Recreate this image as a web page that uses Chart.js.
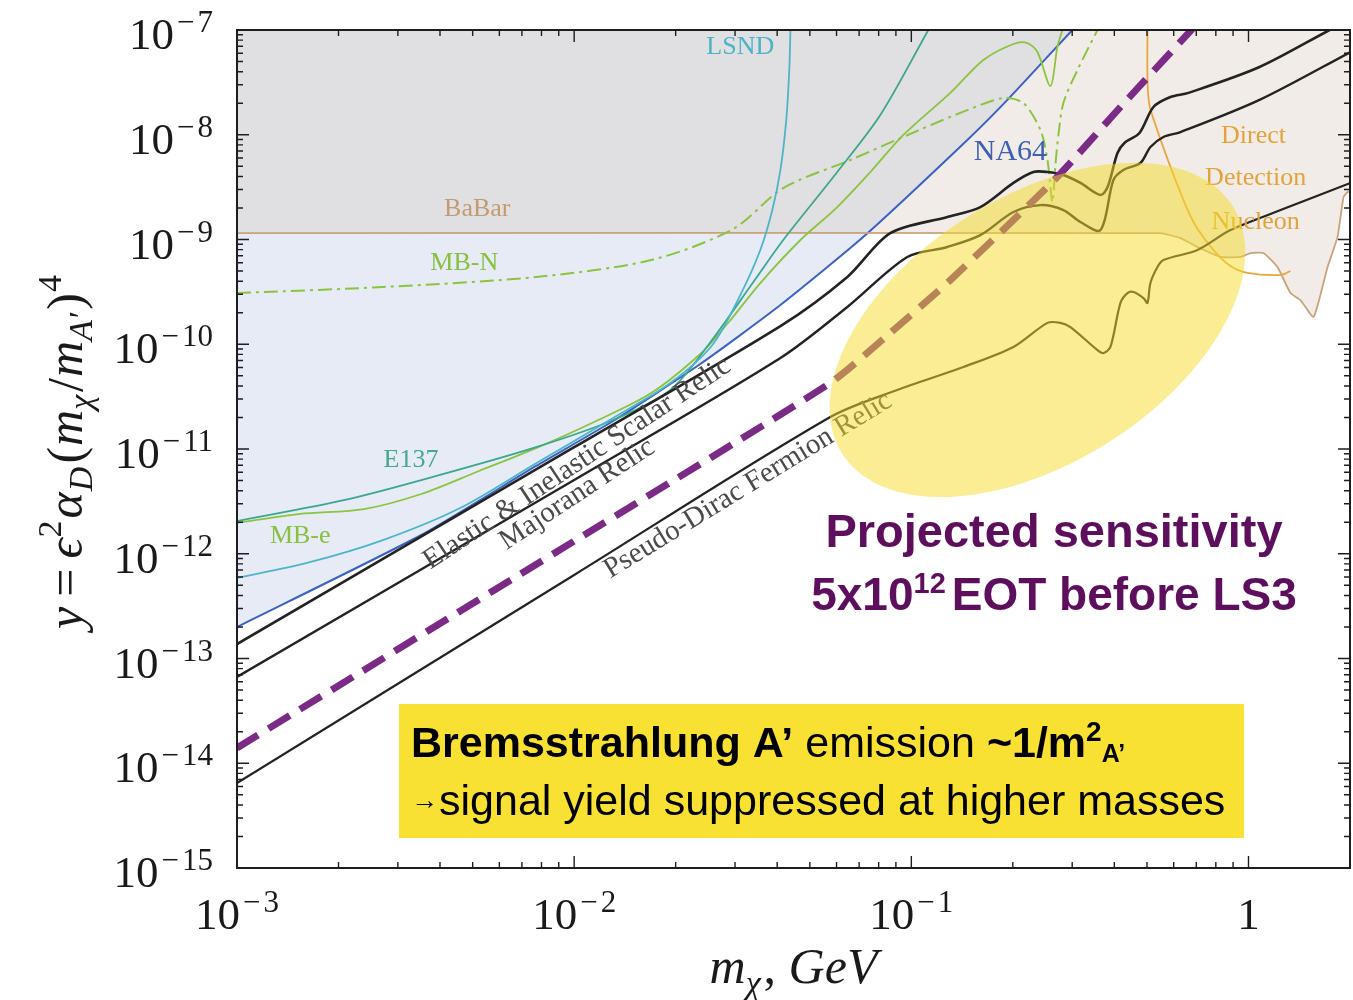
<!DOCTYPE html>
<html>
<head>
<meta charset="utf-8">
<script src="https://cdn.jsdelivr.net/npm/chart.js@4.4.0/dist/chart.umd.min.js"></script>
<style>
  html, body { margin: 0; padding: 0; background: #ffffff; }
  #wrap { width: 1353px; height: 1000px; position: relative; }
</style>
</head>
<body>
<div id="wrap"><canvas id="c" width="1353" height="1000"></canvas></div>
<script>
// ---------- axes ----------
const xRange = [1e-3, 2];
const yRange = [1e-15, 1e-7];
const xTickValues = [1e-3, 1e-2, 1e-1, 1];
const xTickExponents = ['3', '2', '1', null];
const yTickValues = [1e-7, 1e-8, 1e-9, 1e-10, 1e-11, 1e-12, 1e-13, 1e-14, 1e-15];
const yTickExponents = ['7', '8', '9', '10', '11', '12', '13', '14', '15'];

// ---------- exclusion limits (m_chi in GeV, y) ----------
const babarMass = [0.001, 0.548, 0.6284, 0.7058, 0.826, 0.9469, 1.014, 1.108, 1.219, 1.332, 1.426, 1.56, 1.716, 1.837, 1.914, 1.967, 2.0];
const babarY    = [1.15e-9, 1.15e-9, 1.03e-9, 8.48e-10, 6.81e-10, 6.81e-10, 7.43e-10, 7.43e-10, 5.46e-10, 3.08e-10, 2.64e-10, 1.82e-10, 5.46e-10, 1.06e-9, 2.55e-9, 2.84e-9, 2.84e-9];

const na64Mass = [0.001, 0.00352, 0.00771, 0.01305, 0.02366, 0.0409, 0.0721, 0.1466, 0.1927, 0.3003];
const na64Y    = [2.0e-13, 1.51e-12, 6.89e-12, 1.85e-11, 6.48e-11, 2.37e-10, 1.06e-9, 8.91e-9, 2.15e-8, 1.0e-7];

const ddMass = [0.5016, 0.5016, 0.5084, 0.530, 0.5556, 0.6157, 0.6867, 0.7872, 0.8843, 0.993, 1.245, 1.332];
const ddY    = [1.0e-7, 3.33e-8, 1.92e-8, 1.24e-8, 7.98e-9, 3.31e-9, 1.47e-9, 7.94e-10, 5.58e-10, 4.79e-10, 4.58e-10, 5.0e-10];

const lsndMass = [0.001, 0.001613, 0.00271, 0.00459, 0.00771, 0.01305, 0.01928, 0.0257, 0.0311, 0.03565, 0.0387, 0.0409, 0.04256, 0.04345, 0.0438];
const lsndY    = [5.87e-13, 8.17e-13, 1.35e-12, 2.73e-12, 7.3e-12, 1.98e-11, 4.27e-11, 9.84e-11, 2.95e-10, 7.94e-10, 1.91e-9, 4.61e-9, 1.38e-8, 4.15e-8, 1.0e-7];

const e137Mass = [0.001, 0.00209, 0.0040, 0.00771, 0.01305, 0.01928, 0.0250, 0.0340, 0.0417, 0.0603, 0.0809, 0.1123];
const e137Y    = [2.05e-12, 3.26e-12, 5.65e-12, 1.04e-11, 1.89e-11, 3.66e-11, 9.84e-11, 3.93e-10, 9.89e-10, 4.41e-9, 1.54e-8, 1.0e-7];

const mbeMass = [0.001, 0.00154, 0.00238, 0.00352, 0.00522, 0.00771, 0.01146, 0.01692, 0.02366, 0.02844, 0.03565, 0.0469, 0.0603, 0.0756, 0.0947, 0.1305, 0.1636, 0.2008, 0.2208, 0.2366, 0.2586, 0.2711, 0.2806];
const mbeY    = [1.97e-12, 2.40e-12, 2.67e-12, 3.72e-12, 6.17e-12, 1.02e-11, 1.81e-11, 3.42e-11, 8.07e-11, 1.56e-10, 3.84e-10, 9.89e-10, 2.04e-9, 4.41e-9, 9.95e-9, 2.51e-8, 5.17e-8, 7.35e-8, 7.51e-8, 6.17e-8, 2.92e-8, 6.89e-8, 1.0e-7];

const mbnMass = [0.001, 0.00271, 0.00771, 0.01692, 0.02963, 0.0417, 0.0659, 0.1042, 0.1466, 0.1875, 0.2148, 0.2415, 0.2534, 0.2621, 0.2675, 0.273, 0.2825, 0.311, 0.3565];
const mbnY    = [3.08e-10, 3.52e-10, 4.39e-10, 6.37e-10, 1.26e-9, 3.10e-9, 5.74e-9, 1.09e-8, 1.72e-8, 2.24e-8, 2.01e-8, 1.11e-8, 5.74e-9, 2.28e-9, 5.14e-9, 9.94e-9, 2.01e-8, 4.15e-8, 1.0e-7];

// ---------- thermal relic targets ----------
const scalarMass = [0.001, 0.01, 0.0409, 0.0646, 0.0866, 0.1279, 0.1602, 0.2008, 0.2301, 0.2534, 0.2825, 0.3173, 0.364, 0.382, 0.4087, 0.4285, 0.475, 0.5225, 0.5868, 0.6637, 1.078, 1.74, 2.0];
const scalarY    = [1.375e-13, 1.04e-11, 1.49e-10, 4.39e-10, 1.15e-9, 1.64e-9, 2.04e-9, 3.47e-9, 4.41e-9, 4.41e-9, 4.13e-9, 3.47e-9, 2.66e-9, 3.17e-9, 6.69e-9, 8.34e-9, 1.04e-8, 1.84e-8, 2.29e-8, 2.51e-8, 4.43e-8, 1.0e-7, 1.25e-7];

const majoranaMass = [0.001, 0.01, 0.0409, 0.0646, 0.0973, 0.1279, 0.1602, 0.2008, 0.2415, 0.2825, 0.3173, 0.364, 0.3975, 0.4257, 0.478, 0.5118, 0.5594, 0.6284, 1.078, 2.008];
const majoranaY    = [6.66e-14, 5.06e-12, 7.39e-11, 2.27e-10, 6.81e-10, 8.48e-10, 1.10e-9, 1.83e-9, 2.13e-9, 1.91e-9, 1.47e-9, 1.23e-9, 3.70e-9, 4.61e-9, 5.37e-9, 7.64e-9, 9.52e-9, 1.06e-8, 2.15e-8, 6.17e-8];

const pseudoDiracMass = [0.001, 0.01, 0.0575, 0.0908, 0.1427, 0.2008, 0.2534, 0.2767, 0.2963, 0.3565, 0.3715, 0.3895, 0.4171, 0.4375, 0.4558, 0.488, 0.5015, 0.5118, 0.537, 0.5594, 0.7058, 0.8843, 1.245, 2.008];
const pseudoDiracY    = [6.48e-15, 6.27e-13, 2.02e-11, 3.66e-11, 6.07e-11, 9.42e-11, 1.60e-10, 1.60e-10, 1.46e-10, 8.81e-11, 8.25e-11, 9.42e-11, 2.48e-10, 3.08e-10, 3.15e-10, 2.76e-10, 2.48e-10, 3.84e-10, 5.46e-10, 6.37e-10, 7.94e-10, 1.23e-9, 1.91e-9, 3.47e-9];

// ---------- projected reach, 5x10^12 EOT ----------
const projMass = [0.001, 0.01, 0.0575, 0.0866, 0.1305, 0.2657, 0.4171, 0.6637, 0.72];
const projY    = [1.40e-14, 1.32e-12, 4.27e-11, 1.28e-10, 4.10e-10, 3.70e-9, 1.84e-8, 9.36e-8, 1.25e-7];

// ---------- fonts ----------
const SERIF = '"Liberation Serif", "DejaVu Serif", serif';
const SANS = '"Liberation Sans", Arial, Helvetica, sans-serif';

const pts = (xs, ys) => xs.map((x, i) => ({ x, y: ys[i] }));

function line(data, color, width, extra) {
  return Object.assign({
    data, showLine: true, borderColor: color, borderWidth: width,
    pointRadius: 0, pointHoverRadius: 0, tension: 0.3, fill: false, clip: 0
  }, extra || {});
}

const datasets = [
  line(pts(projMass, projY), '#7b2a86', 7, { borderDash: [25, 12], order: 0, tension: 0.2 }),
  line(pts(scalarMass, scalarY), '#232323', 2.6, { order: 1 }),
  line(pts(majoranaMass, majoranaY), '#232323', 2.4, { order: 1 }),
  line(pts(pseudoDiracMass, pseudoDiracY), '#232323', 2.2, { order: 1 }),
  line(pts(lsndMass, lsndY), '#4cb6c8', 1.8, { order: 2 }),
  line(pts(e137Mass, e137Y), '#3ca78e', 1.8, { order: 2 }),
  line(pts(mbeMass, mbeY), '#8bc43f', 1.8, { order: 2 }),
  line(pts(mbnMass, mbnY), '#8bc43f', 2, { order: 2, borderDash: [14, 5, 3, 5] }),
  line(pts(ddMass, ddY), '#e9a63a', 1.8, { order: 2 }),
  line(pts(babarMass, babarY), '#c8a37b', 1.8, { order: 3, fill: 'end', backgroundColor: 'rgba(212,196,180,0.32)', tension: 0.15 }),
  line(pts(na64Mass, na64Y), '#3b62c2', 2, { order: 4, fill: 'end', backgroundColor: 'rgba(196,207,234,0.42)', tension: 0.2 })
];

// ---------- text placed on the plot ----------
const curveLabels = [
  { text: 'LSND', mass: 0.0311, y: 6.89e-8, color: '#4db4c6', size: 26 },
  { text: 'BaBar', mass: 0.00516, y: 1.95e-9, color: '#c49b70', size: 26 },
  { text: 'MB-N', mass: 0.00472, y: 5.97e-10, color: '#88c040', size: 26 },
  { text: 'E137', mass: 0.00328, y: 7.85e-12, color: '#44a88e', size: 26 },
  { text: 'MB-e', mass: 0.00154, y: 1.48e-12, color: '#88c040', size: 26 },
  { text: 'NA64', mass: 0.1967, y: 6.84e-9, color: '#3d5fb5', size: 30 },
  { text: 'Direct', mass: 1.035, y: 9.73e-9, color: '#e3a33c', size: 26 },
  { text: 'Detection', mass: 1.05, y: 3.86e-9, color: '#e3a33c', size: 26 },
  { text: 'Nucleon', mass: 1.05, y: 1.47e-9, color: '#e3a33c', size: 26 },
  { text: 'Elastic & Inelastic Scalar Relic', mass: 0.0102, y: 7.3e-12, color: '#4a4a4a', size: 29, angle: -33.5 },
  { text: 'Majorana Relic', mass: 0.0102, y: 3.7e-12, color: '#4a4a4a', size: 29, angle: -33.5 },
  { text: 'Pseudo-Dirac Fermion Relic', mass: 0.0328, y: 4.5e-12, color: '#4a4a4a', size: 29, angle: -31.5 }
];

// highlighted region: centre and half-axes in decades (log10 mass, log10 y)
const highlight = { mass: 0.2366, y: 1.37e-10, major: [0.579, 1.182], minor: [0.2115, -1.072] };

function f(size, o) {
  o = o || {};
  return (o.italic ? 'italic ' : '') + (o.bold ? 'bold ' : '') + size + 'px ' + (o.family || SERIF);
}
function richWidth(ctx, parts) {
  let w = 0;
  for (const p of parts) { ctx.font = p.font; w += ctx.measureText(p.t).width + (p.kern || 0); }
  return w;
}
function drawRich(ctx, parts, x, y, align, color) {
  const w = richWidth(ctx, parts);
  let cx = align === 'center' ? x - w / 2 : align === 'right' ? x - w : x;
  ctx.textAlign = 'left';
  ctx.textBaseline = 'alphabetic';
  for (const p of parts) {
    ctx.font = p.font;
    ctx.fillStyle = p.color || color;
    ctx.fillText(p.t, cx, y + (p.dy || 0));
    cx += ctx.measureText(p.t).width + (p.kern || 0);
  }
}
// "10" with a raised negative exponent, or a plain "1"
function powerLabel(exp, main, sup, supDy) {
  if (exp === null) return [{ t: '1', font: f(main) }];
  return [
    { t: '10', font: f(main), kern: 3 },
    { t: '−', font: f(sup), dy: supDy, kern: 3 },
    { t: exp, font: f(sup), dy: supDy }
  ];
}

const decorations = {
  id: 'decorations',
  afterDatasetsDraw(chart) {
    const { ctx } = chart;
    const xs = chart.scales.x, ys = chart.scales.y;
    ctx.save();
    for (const L of curveLabels) {
      const px = xs.getPixelForValue(L.mass), py = ys.getPixelForValue(L.y);
      ctx.save();
      ctx.translate(px, py);
      ctx.rotate((L.angle || 0) * Math.PI / 180);
      ctx.font = f(L.size);
      ctx.fillStyle = L.color;
      ctx.textAlign = 'center';
      ctx.textBaseline = 'middle';
      ctx.fillText(L.text, 0, 0);
      ctx.restore();
    }
    // highlighted ellipse over the curves
    const lcx = Math.log10(highlight.mass), lcy = Math.log10(highlight.y);
    ctx.beginPath();
    for (let i = 0; i <= 160; i++) {
      const t = i / 160 * 2 * Math.PI;
      const lx = lcx + highlight.major[0] * Math.cos(t) + highlight.minor[0] * Math.sin(t);
      const ly = lcy + highlight.major[1] * Math.cos(t) + highlight.minor[1] * Math.sin(t);
      const px = xs.getPixelForValue(Math.pow(10, lx)), py = ys.getPixelForValue(Math.pow(10, ly));
      if (i === 0) ctx.moveTo(px, py); else ctx.lineTo(px, py);
    }
    ctx.closePath();
    ctx.fillStyle = 'rgba(245,220,40,0.5)';
    ctx.fill();
    ctx.restore();
  },
  afterDraw(chart) {
    const { ctx, chartArea: a } = chart;
    const xs = chart.scales.x, ys = chart.scales.y;
    ctx.save();
    // frame
    ctx.strokeStyle = '#1e1e1e';
    ctx.lineWidth = 2;
    ctx.strokeRect(a.left, a.top, a.right - a.left, a.bottom - a.top);
    // inward ticks
    ctx.lineWidth = 1.4;
    ctx.beginPath();
    for (let e = -3; e <= 0; e++) {
      for (let m = 1; m <= 9; m++) {
        const v = m * Math.pow(10, e);
        if (v < xRange[0] * 0.999 || v > xRange[1] * 1.001) continue;
        const px = xs.getPixelForValue(v);
        const len = m === 1 ? 12 : 6;
        ctx.moveTo(px, a.bottom); ctx.lineTo(px, a.bottom - len);
        ctx.moveTo(px, a.top); ctx.lineTo(px, a.top + len);
      }
    }
    for (let e = -15; e <= -7; e++) {
      for (let m = 1; m <= 9; m++) {
        const v = m * Math.pow(10, e);
        if (v > yRange[1] * 1.001) continue;
        const py = ys.getPixelForValue(v);
        const len = m === 1 ? 12 : 6;
        ctx.moveTo(a.left, py); ctx.lineTo(a.left + len, py);
        ctx.moveTo(a.right, py); ctx.lineTo(a.right - len, py);
      }
    }
    ctx.stroke();

    // tick labels
    yTickValues.forEach((v, i) => {
      const py = ys.getPixelForValue(v);
      drawRich(ctx, powerLabel(yTickExponents[i], 45, 31, -17), a.left - 24, py + 19, 'right', '#1a1a1a');
    });
    xTickValues.forEach((v, i) => {
      const px = xs.getPixelForValue(v);
      drawRich(ctx, powerLabel(xTickExponents[i], 45, 31, -17), px, a.bottom + 61, 'center', '#1a1a1a');
    });

    // axis titles
    drawRich(ctx, [
      { t: 'm', font: f(50, { italic: true }) },
      { t: 'χ', font: f(34, { italic: true }), dy: 11, kern: 3 },
      { t: ', ', font: f(50) },
      { t: 'GeV', font: f(50, { italic: true }) }
    ], (a.left + a.right) / 2, 983, 'center', '#1a1a1a');

    ctx.save();
    ctx.translate(82, 452);
    ctx.rotate(-Math.PI / 2);
    drawRich(ctx, [
      { t: 'y', font: f(50, { italic: true }), kern: 10 },
      { t: '=', font: f(50), kern: 10 },
      { t: 'ϵ', font: f(50, { italic: true }), kern: 1 },
      { t: '2', font: f(34), dy: -21, kern: 2 },
      { t: 'α', font: f(50, { italic: true }), kern: 1 },
      { t: 'D', font: f(34, { italic: true }), dy: 10, kern: 3 },
      { t: '(', font: f(50), kern: 1 },
      { t: 'm', font: f(50, { italic: true }) },
      { t: 'χ', font: f(34, { italic: true }), dy: 10, kern: 3 },
      { t: '/', font: f(50), kern: 1 },
      { t: 'm', font: f(50, { italic: true }) },
      { t: 'A′', font: f(34, { italic: true }), dy: 10, kern: 3 },
      { t: ')', font: f(50), kern: 1 },
      { t: '4', font: f(34), dy: -21 }
    ], 0, 0, 'center', '#1a1a1a');
    ctx.restore();

    // sensitivity note
    const purple = '#5d0f5e';
    drawRich(ctx, [{ t: 'Projected sensitivity', font: f(47, { bold: true, family: SANS }) }], 1054, 547, 'center', purple);
    drawRich(ctx, [
      { t: '5x10', font: f(46, { bold: true, family: SANS }) },
      { t: '12', font: f(29, { bold: true, family: SANS }), dy: -17, kern: 6 },
      { t: 'EOT before LS3', font: f(46, { bold: true, family: SANS }) }
    ], 1054, 610, 'center', purple);

    // bremsstrahlung note
    ctx.fillStyle = '#f8e133';
    ctx.fillRect(399, 704, 845, 134);
    drawRich(ctx, [
      { t: 'Bremsstrahlung A’', font: f(43, { bold: true, family: SANS }) },
      { t: ' emission ', font: f(43, { family: SANS }) },
      { t: '~1/m', font: f(43, { bold: true, family: SANS }) },
      { t: '2', font: f(28, { bold: true, family: SANS }), dy: -16 },
      { t: 'A’', font: f(25, { bold: true, family: SANS }), dy: 5 }
    ], 411, 757, 'left', '#000000');
    drawRich(ctx, [
      { t: '→', font: f(27, { family: SANS }), dy: -6, kern: 1 },
      { t: 'signal yield suppressed at higher masses', font: f(43, { family: SANS }) }
    ], 411, 815, 'left', '#000000');
    ctx.restore();
  }
};

new Chart(document.getElementById('c'), {
  type: 'scatter',
  data: { datasets },
  options: {
    responsive: false,
    animation: false,
    devicePixelRatio: 1,
    events: [],
    layout: { padding: { left: 237, right: 3, top: 30, bottom: 132 } },
    scales: {
      x: { type: 'logarithmic', min: xRange[0], max: xRange[1], display: false },
      y: { type: 'logarithmic', min: yRange[0], max: yRange[1], display: false }
    },
    plugins: {
      legend: { display: false },
      tooltip: { enabled: false },
      filler: { drawTime: 'beforeDatasetsDraw', propagate: false }
    }
  },
  plugins: [decorations]
});
</script>
</body>
</html>
